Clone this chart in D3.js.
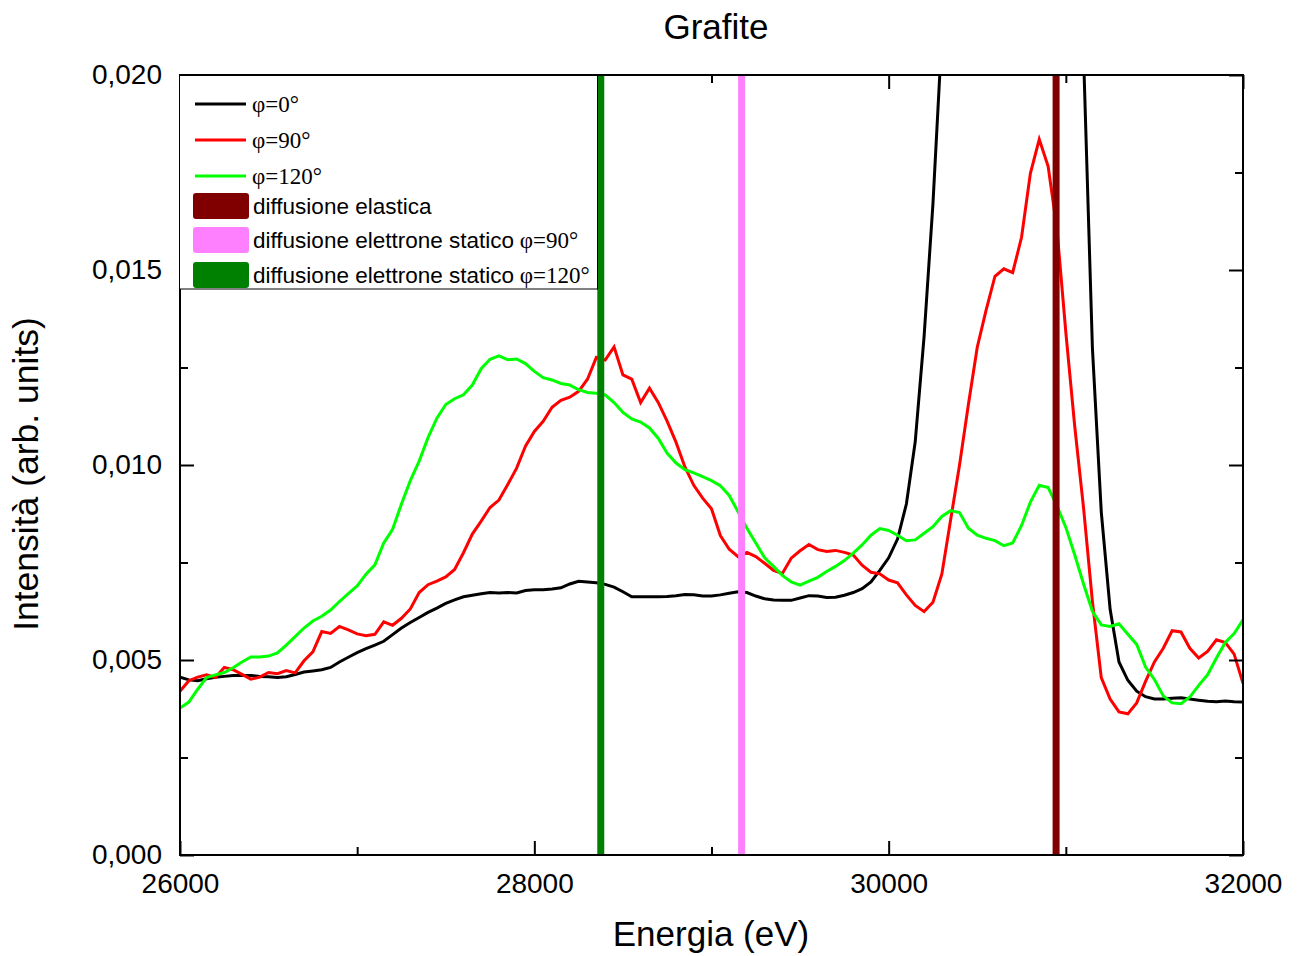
<!DOCTYPE html>
<html>
<head>
<meta charset="utf-8">
<script src="https://cdn.jsdelivr.net/npm/d3@7"></script>
<style>
  body { margin: 0; background: #fff; }
  svg { display: block; }
  text { font-family: "Liberation Sans", Arial, sans-serif; fill: #000; }
  .serif { font-family: "Liberation Serif", "Times New Roman", serif; }
</style>
</head>
<body>
<svg id="chart" width="1297" height="956"></svg>
<script>
// Energy channels (eV), 50 eV apart
const energies = d3.range(26000, 32001, 50);

// Intensities (arb. units) for each scattering angle
const phi0 = [
  0.00456, 0.00449, 0.00447, 0.00452, 0.00456, 0.00458, 0.00460, 0.00460, 0.00460, 0.00458,
  0.00457, 0.00455, 0.00457, 0.00463, 0.00469, 0.00472, 0.00475, 0.00481, 0.00495, 0.00507,
  0.00519, 0.00529, 0.00538, 0.00548, 0.00565, 0.00582, 0.00596, 0.00609, 0.00622, 0.00633,
  0.00645, 0.00654, 0.00662, 0.00666, 0.00670, 0.00673, 0.00672, 0.00673, 0.00672, 0.00678,
  0.00680, 0.00680, 0.00682, 0.00685, 0.00695, 0.00702, 0.00700, 0.00698, 0.00694, 0.00687,
  0.00675, 0.00662, 0.00662, 0.00662, 0.00662, 0.00663, 0.00665, 0.00668, 0.00667, 0.00664,
  0.00664, 0.00667, 0.00671, 0.00675, 0.00673, 0.00664, 0.00657, 0.00654, 0.00653, 0.00653,
  0.00659, 0.00665, 0.00664, 0.00660, 0.00661, 0.00666, 0.00673, 0.00683, 0.00700, 0.00730,
  0.00762, 0.00810, 0.00900, 0.01060, 0.01330, 0.01670, 0.0210, 0.0270, 0.0330, 0.0400,
  0.0470, 0.0540, 0.0600, 0.0650, 0.0700, 0.0740, 0.0770, 0.0790, 0.0800, 0.0770,
  0.0620, 0.0420, 0.0205, 0.01300, 0.00880, 0.00630, 0.00495, 0.00448, 0.00420, 0.00406,
  0.00400, 0.00400, 0.00402, 0.00403, 0.00400, 0.00397, 0.00394, 0.00393, 0.00395, 0.00393,
  0.00392
];

const phi90 = [
  0.00420, 0.00447, 0.00456, 0.00462, 0.00455, 0.00481, 0.00475, 0.00463, 0.00451, 0.00456,
  0.00468, 0.00465, 0.00473, 0.00467, 0.00498, 0.00521, 0.00573, 0.00568, 0.00586, 0.00577,
  0.00567, 0.00562, 0.00566, 0.00598, 0.00589, 0.00607, 0.00631, 0.00673, 0.00693, 0.00702,
  0.00713, 0.00732, 0.00775, 0.00823, 0.00856, 0.00891, 0.00910, 0.00950, 0.00992, 0.01048,
  0.01086, 0.01112, 0.01148, 0.01166, 0.01174, 0.01189, 0.01220, 0.01276, 0.01269, 0.01303,
  0.01231, 0.01220, 0.01160, 0.01197, 0.01160, 0.01112, 0.01058, 0.00995, 0.00948, 0.00915,
  0.00888, 0.00819, 0.00784, 0.00765, 0.00776, 0.00765, 0.00748, 0.00730, 0.00722, 0.00761,
  0.00780, 0.00796, 0.00783, 0.00778, 0.00781, 0.00776, 0.00769, 0.00743, 0.00725, 0.00721,
  0.00705, 0.00698, 0.00667, 0.00640, 0.00624, 0.00648, 0.00720, 0.00860, 0.01000, 0.01155,
  0.01302, 0.01397, 0.01484, 0.01503, 0.01493, 0.01584, 0.01748, 0.01835, 0.01766, 0.01605,
  0.01340, 0.01100, 0.00890, 0.00650, 0.00455, 0.00400, 0.00367, 0.00362, 0.00390, 0.00445,
  0.00495, 0.00530, 0.00575, 0.00572, 0.00530, 0.00505, 0.00522, 0.00552, 0.00545, 0.00515,
  0.00440
];

const phi120 = [
  0.00377, 0.00392, 0.00425, 0.00455, 0.00462, 0.00468, 0.00480, 0.00495, 0.00508, 0.00508,
  0.00510, 0.00518, 0.00538, 0.00560, 0.00582, 0.00600, 0.00612, 0.00628, 0.00650, 0.00670,
  0.00690, 0.00720, 0.00744, 0.00800, 0.00835, 0.00900, 0.00960, 0.01010, 0.01070, 0.01120,
  0.01155, 0.01170, 0.01180, 0.01205, 0.01247, 0.01271, 0.01280, 0.01270, 0.01272, 0.01260,
  0.01240, 0.01224, 0.01218, 0.01209, 0.01205, 0.01193, 0.01186, 0.01184, 0.01180, 0.01160,
  0.01135, 0.01118, 0.01110, 0.01095, 0.01068, 0.01030, 0.01005, 0.00988, 0.00980, 0.00970,
  0.00960, 0.00947, 0.00922, 0.00880, 0.00838, 0.00800, 0.00762, 0.00740, 0.00717, 0.00700,
  0.00692, 0.00702, 0.00712, 0.00727, 0.00740, 0.00755, 0.00774, 0.00795, 0.00820, 0.00837,
  0.00832, 0.00820, 0.00806, 0.00808, 0.00825, 0.00842, 0.00868, 0.00883, 0.00878, 0.00838,
  0.00820, 0.00812, 0.00806, 0.00793, 0.00800, 0.00845, 0.00905, 0.00948, 0.00942, 0.00895,
  0.00840, 0.00770, 0.00695, 0.00625, 0.00590, 0.00586, 0.00593, 0.00566, 0.00540, 0.00482,
  0.00450, 0.00408, 0.00390, 0.00388, 0.00405, 0.00435, 0.00462, 0.00505, 0.00545, 0.00568,
  0.00603
];

// Reference energies: elastic peak and static-electron Compton lines
const markerLabels = ["diffusione elastica", "diffusione elettrone statico", "diffusione elettrone statico"];
const markerAngles = ["", "φ=90°", "φ=120°"];
const markerEnergies = [30945, 29170, 28375];
const markerColors = ["#800000", "#ff80ff", "#008000"];

const seriesLabels = ["φ=0°", "φ=90°", "φ=120°"];
const seriesColors = ["#000000", "#ff0000", "#00ff00"];
const seriesValues = [phi0, phi90, phi120];

const xTicks = [26000, 28000, 30000, 32000];
const xMinorTicks = [27000, 29000, 31000];
const yTicks = [0, 0.005, 0.010, 0.015, 0.020];
const yMinorTicks = [0.0025, 0.0075, 0.0125, 0.0175];

const titleText = "Grafite";
const xTitle = "Energia (eV)";
const yTitle = "Intensità (arb. units)";

// ---- layout ----
const plot = { left: 180, right: 1243, top: 75, bottom: 855 };

const svg = d3.select("#chart");

const x = d3.scaleLinear().domain([26000, 32000]).range([plot.left, plot.right]);
const y = d3.scaleLinear().domain([0, 0.020]).range([plot.bottom, plot.top]);

svg.append("defs").append("clipPath").attr("id", "plot-clip")
  .append("rect")
  .attr("x", plot.left).attr("y", plot.top)
  .attr("width", plot.right - plot.left).attr("height", plot.bottom - plot.top);

// ---- spectra ----
const line = d3.line().x((d, i) => x(energies[i])).y(d => y(d));
const curves = svg.append("g").attr("clip-path", "url(#plot-clip)");
seriesValues.forEach((vals, k) => {
  curves.append("path")
    .datum(vals)
    .attr("d", line)
    .attr("fill", "none")
    .attr("stroke", seriesColors[k])
    .attr("stroke-width", 3)
    .attr("stroke-linejoin", "miter");
});

// ---- reference energy lines ----
const markers = svg.append("g");
markerEnergies.forEach((e, k) => {
  markers.append("line")
    .attr("x1", x(e)).attr("x2", x(e))
    .attr("y1", y(0)).attr("y2", y(0.020))
    .attr("stroke", markerColors[k])
    .attr("stroke-width", 7);
});

// ---- axes (ticks pointing inward on all four sides) ----
const fmtY = v => d3.format(".3f")(v).replace(".", ",");

const axB = d3.axisBottom(x).tickValues(xTicks).tickSize(-14).tickPadding(18).tickFormat(d3.format("d"));
const axBm = d3.axisBottom(x).tickValues(xMinorTicks).tickSize(-8).tickFormat("");
const axT = d3.axisTop(x).tickValues(xTicks).tickSize(-14).tickFormat("");
const axTm = d3.axisTop(x).tickValues(xMinorTicks).tickSize(-8).tickFormat("");
const axL = d3.axisLeft(y).tickValues(yTicks).tickSize(-14).tickPadding(18).tickFormat(fmtY);
const axLm = d3.axisLeft(y).tickValues(yMinorTicks).tickSize(-8).tickFormat("");
const axR = d3.axisRight(y).tickValues(yTicks).tickSize(-14).tickFormat("");
const axRm = d3.axisRight(y).tickValues(yMinorTicks).tickSize(-8).tickFormat("");

function styleAxis(g) {
  g.select(".domain").remove();
  g.selectAll(".tick line").attr("stroke", "#000").attr("stroke-width", 2);
  g.selectAll(".tick text")
    .style("font-family", '"Liberation Sans", Arial, sans-serif')
    .style("font-size", "28px")
    .attr("fill", "#000");
}

svg.append("g").attr("transform", `translate(0,${plot.bottom})`).call(axB).call(styleAxis);
svg.append("g").attr("transform", `translate(0,${plot.bottom})`).call(axBm).call(styleAxis);
svg.append("g").attr("transform", `translate(0,${plot.top})`).call(axT).call(styleAxis);
svg.append("g").attr("transform", `translate(0,${plot.top})`).call(axTm).call(styleAxis);
svg.append("g").attr("transform", `translate(${plot.left},0)`).call(axL).call(styleAxis);
svg.append("g").attr("transform", `translate(${plot.left},0)`).call(axLm).call(styleAxis);
svg.append("g").attr("transform", `translate(${plot.right},0)`).call(axR).call(styleAxis);
svg.append("g").attr("transform", `translate(${plot.right},0)`).call(axRm).call(styleAxis);

// frame
svg.append("rect")
  .attr("x", plot.left).attr("y", plot.top)
  .attr("width", plot.right - plot.left).attr("height", plot.bottom - plot.top)
  .attr("fill", "none").attr("stroke", "#000").attr("stroke-width", 2);

// ---- legend ----
const lg = svg.append("g");
lg.append("rect")
  .attr("x", 179.5).attr("y", 75.5).attr("width", 418).attr("height", 213.5)
  .attr("fill", "#fff").attr("stroke", "#000").attr("stroke-width", 1);

const lineRowsY = [104, 140, 176];
seriesLabels.forEach((lab, k) => {
  lg.append("line")
    .attr("x1", 195).attr("x2", 246)
    .attr("y1", lineRowsY[k]).attr("y2", lineRowsY[k])
    .attr("stroke", seriesColors[k]).attr("stroke-width", 3);
  lg.append("text")
    .attr("class", "serif")
    .attr("x", 252).attr("y", lineRowsY[k] + 8)
    .style("font-size", "23px")
    .text(lab);
});

const boxRowsY = [206, 240, 275];
markerLabels.forEach((lab, k) => {
  lg.append("rect")
    .attr("x", 193).attr("y", boxRowsY[k] - 13)
    .attr("width", 56).attr("height", 26)
    .attr("rx", 3).attr("ry", 3)
    .attr("fill", markerColors[k]);
  const t = lg.append("text")
    .attr("x", 253).attr("y", boxRowsY[k] + 8)
    .style("font-size", "22.5px");
  t.append("tspan").text(lab);
  if (markerAngles[k]) {
    t.append("tspan").attr("class", "serif").style("font-size", "23px").text(" " + markerAngles[k]);
  }
});

// ---- titles ----
svg.append("text")
  .attr("x", 716).attr("y", 39)
  .attr("text-anchor", "middle")
  .style("font-size", "35px")
  .text(titleText);

svg.append("text")
  .attr("x", 711).attr("y", 946)
  .attr("text-anchor", "middle")
  .style("font-size", "35px")
  .text(xTitle);

svg.append("text")
  .attr("transform", `translate(38,474) rotate(-90)`)
  .attr("text-anchor", "middle")
  .style("font-size", "35.5px")
  .text(yTitle);
</script>
</body>
</html>
